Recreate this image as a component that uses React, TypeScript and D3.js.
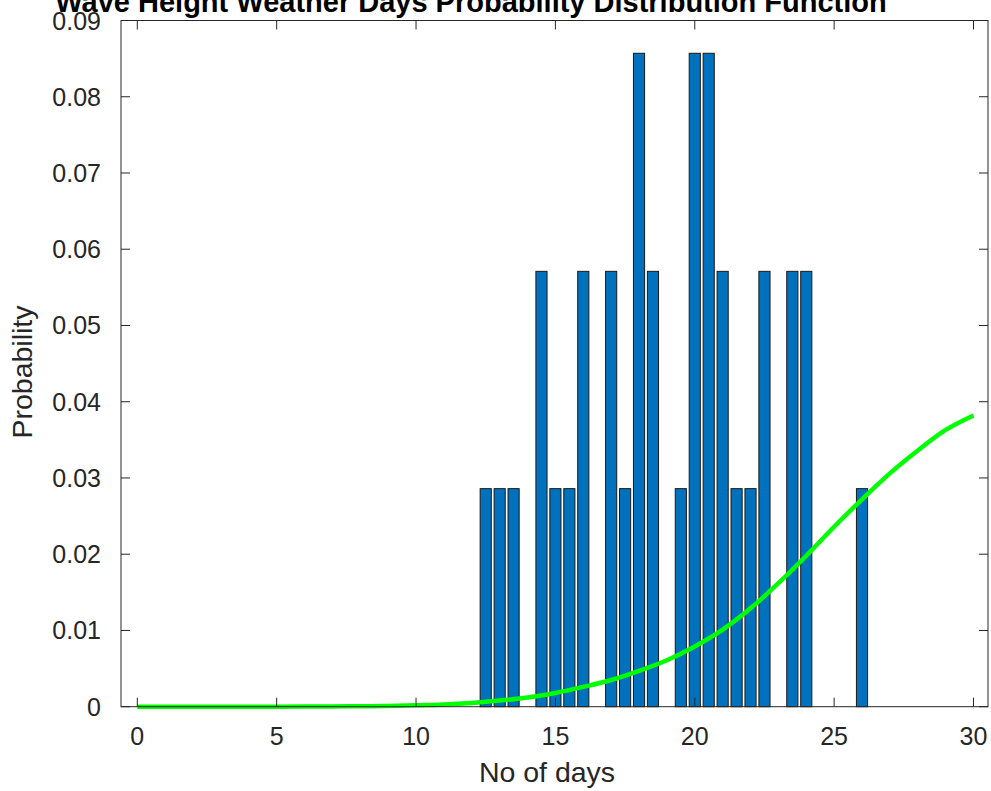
import React, { useEffect, useRef } from "react";
import * as d3 from "d3";

// histogram bins (days) and their probabilities
const binCenters = [
  12.5, 13, 13.5, 14.5, 15, 15.5, 16, 17, 17.5, 18, 18.5, 19.5, 20, 20.5, 21,
  21.5, 22, 22.5, 23.5, 24, 26,
];
const binProbs = [
  0.0286, 0.0286, 0.0286, 0.0571, 0.0286, 0.0286, 0.0571, 0.0571, 0.0286,
  0.0857, 0.0571, 0.0286, 0.0857, 0.0857, 0.0571, 0.0286, 0.0286, 0.0571,
  0.0571, 0.0571, 0.0286,
];

const curveDays = [
  0, 1, 2, 3, 4, 5, 6, 7, 8, 9, 10, 11, 12, 13, 14, 15, 16, 17, 18, 19, 20, 21,
  22, 23, 24, 25, 26, 27, 28, 29, 30,
];
const curveProbs = [
  0, 0, 0, 0, 0, 0, 0.00001, 0.00003, 0.00006, 0.0001, 0.0002, 0.0003, 0.0005,
  0.0008, 0.0012, 0.0018, 0.0026, 0.0035, 0.0047, 0.0061, 0.0079, 0.0101,
  0.0129, 0.0162, 0.0198, 0.0236, 0.0272, 0.0306, 0.0336, 0.0363, 0.0382,
];

const xTicks = [0, 5, 10, 15, 20, 25, 30];
const yTicks = [0, 0.01, 0.02, 0.03, 0.04, 0.05, 0.06, 0.07, 0.08, 0.09];

const title = "Wave Height Weather Days Probability Distribution Function";
const xLabel = "No of days";
const yLabel = "Probability";

const W = 991;
const H = 791;

const App: React.FC = () => {
  const svgRef = useRef<SVGSVGElement>(null);

  useEffect(() => {
    if (!svgRef.current) return;
    const svg = d3.select(svgRef.current);
    svg.selectAll("*").remove();

    const left = 121;
    const right = 988;
    const top = 20.5;
    const bottom = 706.7;
    const axisColor = "#262626";
    const font = "'Liberation Sans', Arial, sans-serif";

    const x = d3.scaleLinear().domain([-0.585, 30.52]).range([left, right]);
    const y = d3.scaleLinear().domain([0, 0.09]).range([bottom, top]);

    svg
      .append("rect")
      .attr("width", W)
      .attr("height", H)
      .attr("fill", "#fff");

    // bars
    const barW = x(0.4) - x(0);
    svg
      .append("g")
      .selectAll("rect")
      .data(binCenters)
      .join("rect")
      .attr("x", (d) => x(d) - barW / 2)
      .attr("y", (_, i) => y(binProbs[i]))
      .attr("width", barW)
      .attr("height", (_, i) => y(0) - y(binProbs[i]))
      .attr("fill", "#0072BD")
      .attr("stroke", "#1a1a1a")
      .attr("stroke-width", 1);

    // curve
    const line = d3
      .line<number>()
      .x((d) => x(d))
      .y((_, i) => y(curveProbs[i]))
      .curve(d3.curveCatmullRom.alpha(0.5));
    svg
      .append("path")
      .datum(curveDays)
      .attr("d", line)
      .attr("fill", "none")
      .attr("stroke", "#00ff00")
      .attr("stroke-width", 4.5);

    // box
    svg
      .append("rect")
      .attr("x", left)
      .attr("y", top)
      .attr("width", right - left)
      .attr("height", bottom - top)
      .attr("fill", "none")
      .attr("stroke", axisColor)
      .attr("stroke-width", 1);

    const tickLen = 9;
    const g = svg.append("g").attr("stroke", axisColor).attr("stroke-width", 1);
    xTicks.forEach((t) => {
      g.append("line")
        .attr("x1", x(t))
        .attr("x2", x(t))
        .attr("y1", bottom)
        .attr("y2", bottom - tickLen);
      g.append("line")
        .attr("x1", x(t))
        .attr("x2", x(t))
        .attr("y1", top)
        .attr("y2", top + tickLen);
    });
    yTicks.forEach((t) => {
      g.append("line")
        .attr("x1", left)
        .attr("x2", left + tickLen)
        .attr("y1", y(t))
        .attr("y2", y(t));
      g.append("line")
        .attr("x1", right)
        .attr("x2", right - tickLen)
        .attr("y1", y(t))
        .attr("y2", y(t));
    });

    // tick labels
    svg
      .append("g")
      .selectAll("text")
      .data(xTicks)
      .join("text")
      .attr("x", (d) => x(d))
      .attr("y", 745)
      .attr("text-anchor", "middle")
      .style("font-family", font)
      .style("font-size", "25px")
      .style("fill", axisColor)
      .text((d) => String(d));

    svg
      .append("g")
      .selectAll("text")
      .data(yTicks)
      .join("text")
      .attr("x", 101)
      .attr("y", (d) => y(d))
      .attr("dy", "0.36em")
      .attr("text-anchor", "end")
      .style("font-family", font)
      .style("font-size", "25px")
      .style("fill", axisColor)
      .text((d) => (d === 0 ? "0" : d.toFixed(2)));

    // axis labels
    svg
      .append("text")
      .attr("x", 547)
      .attr("y", 782)
      .attr("text-anchor", "middle")
      .style("font-family", font)
      .style("font-size", "28.5px")
      .style("fill", axisColor)
      .text(xLabel);

    svg
      .append("text")
      .attr("transform", `translate(32, 372) rotate(-90)`)
      .attr("text-anchor", "middle")
      .style("font-family", font)
      .style("font-size", "28.5px")
      .style("fill", axisColor)
      .text(yLabel);

    // title
    svg
      .append("text")
      .attr("x", 471)
      .attr("y", 12)
      .attr("text-anchor", "middle")
      .style("font-family", font)
      .style("font-size", "29px")
      .style("font-weight", "bold")
      .style("fill", "#000")
      .text(title);
  }, []);

  return (
    <svg
      ref={svgRef}
      width={W}
      height={H}
      style={{ position: "absolute", left: 0, top: 0, display: "block" }}
    />
  );
};

export default App;
